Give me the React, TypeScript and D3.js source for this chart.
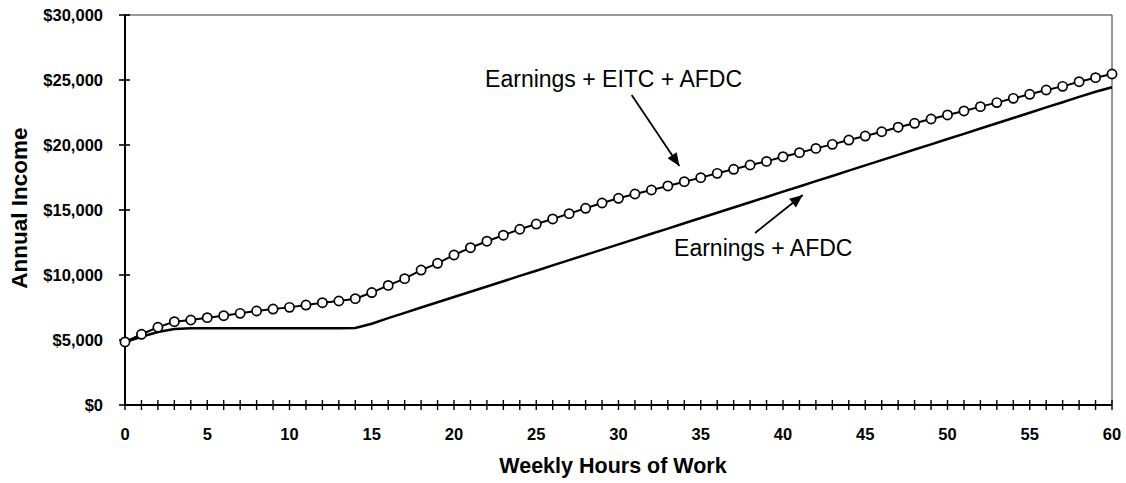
import React from "react";
import * as d3 from "d3";

const hours = d3.range(0, 61);

// Earnings + EITC + AFDC (circles), one value per weekly hour 0..60
const withEitc = [
  4850, 5440, 5980, 6410, 6540, 6720, 6870, 7050, 7230, 7380,
  7510, 7690, 7870, 8000, 8180, 8650, 9200, 9720, 10380, 10900,
  11540, 12100, 12600, 13060, 13520, 13920, 14310, 14720, 15130, 15540,
  15900, 16230, 16540, 16850, 17180, 17490, 17820, 18130, 18460, 18740,
  19100, 19410, 19740, 20050, 20380, 20690, 21020, 21370, 21670, 22000,
  22310, 22620, 22950, 23260, 23590, 23900, 24230, 24510, 24870, 25180,
  25460,
];

// Earnings + AFDC (plain line)
const withoutEitc = [
  4850, 5250, 5620, 5850, 5900, 5900, 5900, 5900, 5900, 5900,
  5900, 5900, 5900, 5900, 5920, 6250, 6680, 7090, 7500, 7900,
  8310, 8710, 9120, 9520, 9930, 10330, 10740, 11140, 11550, 11950,
  12360, 12760, 13170, 13570, 13980, 14380, 14790, 15190, 15600, 16000,
  16410, 16810, 17220, 17620, 18030, 18430, 18840, 19240, 19650, 20050,
  20460, 20860, 21270, 21670, 22080, 22480, 22890, 23290, 23700, 24100,
  24440,
];

const yTicks = [0, 5000, 10000, 15000, 20000, 25000, 30000];
const xLabelTicks = [0, 5, 10, 15, 20, 25, 30, 35, 40, 45, 50, 55, 60];

// annotations in data units: [hour, income]
const annotations = [
  { label: "Earnings + EITC + AFDC", text: [29.7, 24460], from: [30.8, 23850], to: [33.7, 18380] },
  { label: "Earnings + AFDC", text: [38.8, 11460], from: [38.3, 13230], to: [41.2, 16150] },
];

const W = 1126;
const H = 483;
const FONT = "'Liberation Sans', Arial, Helvetica, sans-serif";

export default function App() {
  const x = d3.scaleLinear().domain([0, 60]).range([125, 1112]);
  const y = d3.scaleLinear().domain([0, 30000]).range([405, 15]);

  const line = d3
    .line<number>()
    .x((_, i) => x(hours[i]))
    .y((d) => y(d));

  const arrowHead = (fx: number, fy: number, tx: number, ty: number) => {
    const ang = Math.atan2(ty - fy, tx - fx);
    const len = 13;
    const half = 5.5;
    const bx = tx - len * Math.cos(ang);
    const by = ty - len * Math.sin(ang);
    const px = -Math.sin(ang) * half;
    const py = Math.cos(ang) * half;
    return `M${tx},${ty}L${bx + px},${by + py}L${bx - px},${by - py}Z`;
  };

  return (
    <svg
      width={W}
      height={H}
      style={{ position: "absolute", left: 0, top: 0, background: "#fff" }}
      fontFamily={FONT}
    >
      <rect x={0} y={0} width={W} height={H} fill="#fff" />

      {/* frame top and right */}
      <line x1={x(0)} x2={x(60)} y1={y(30000)} y2={y(30000)} stroke="#333" strokeWidth={1} />
      <line x1={x(60)} x2={x(60)} y1={y(30000)} y2={y(0)} stroke="#333" strokeWidth={1} />

      {/* y axis */}
      <line x1={x(0)} x2={x(0)} y1={y(30000)} y2={y(0)} stroke="#000" strokeWidth={2} />
      {yTicks.map((t) => (
        <g key={t}>
          <line x1={x(0) - 6} x2={x(0) + 5} y1={y(t)} y2={y(t)} stroke="#000" strokeWidth={1.6} />
          <text
            x={103}
            y={y(t)}
            dy="0.35em"
            textAnchor="end"
            fontSize={16.5}
            fontWeight="bold"
            fill="#000"
          >
            {d3.format("$,")(t)}
          </text>
        </g>
      ))}

      {/* x axis */}
      <line x1={x(0)} x2={x(60)} y1={y(0)} y2={y(0)} stroke="#000" strokeWidth={2} />
      {hours.map((h) => (
        <line key={h} x1={x(h)} x2={x(h)} y1={y(0) - 5} y2={y(0) + 5} stroke="#000" strokeWidth={1.4} />
      ))}
      {xLabelTicks.map((t) => (
        <text
          key={t}
          x={x(t)}
          y={434}
          dy="0.35em"
          textAnchor="middle"
          fontSize={16.5}
          fontWeight="bold"
          fill="#000"
        >
          {t}
        </text>
      ))}

      {/* axis titles */}
      <text
        x={613}
        y={465}
        dy="0.35em"
        textAnchor="middle"
        fontSize={21.5}
        fontWeight="bold"
        fill="#000"
      >
        Weekly Hours of Work
      </text>
      <text
        transform={`translate(19,${208}) rotate(-90)`}
        textAnchor="middle"
        dy="0.35em"
        fontSize={22.5}
        fontWeight="bold"
        fill="#000"
      >
        Annual Income
      </text>

      {/* Earnings + AFDC */}
      <path d={line(withoutEitc) || ""} fill="none" stroke="#000" strokeWidth={2.5} />

      {/* Earnings + EITC + AFDC */}
      <path d={line(withEitc) || ""} fill="none" stroke="#000" strokeWidth={2} />
      {withEitc.map((v, i) => (
        <circle
          key={i}
          cx={x(hours[i])}
          cy={y(v)}
          r={4.6}
          fill="#fff"
          stroke="#000"
          strokeWidth={1.7}
        />
      ))}

      {/* annotations */}
      {annotations.map((a) => {
        const fx = x(a.from[0]);
        const fy = y(a.from[1]);
        const tx = x(a.to[0]);
        const ty = y(a.to[1]);
        return (
          <g key={a.label}>
            <text
              x={x(a.text[0])}
              y={y(a.text[1])}
              textAnchor="middle"
              fontSize={23}
              fill="#000"
            >
              {a.label}
            </text>
            <line x1={fx} y1={fy} x2={tx} y2={ty} stroke="#000" strokeWidth={1.8} />
            <path d={arrowHead(fx, fy, tx, ty)} fill="#000" />
          </g>
        );
      })}
    </svg>
  );
}
